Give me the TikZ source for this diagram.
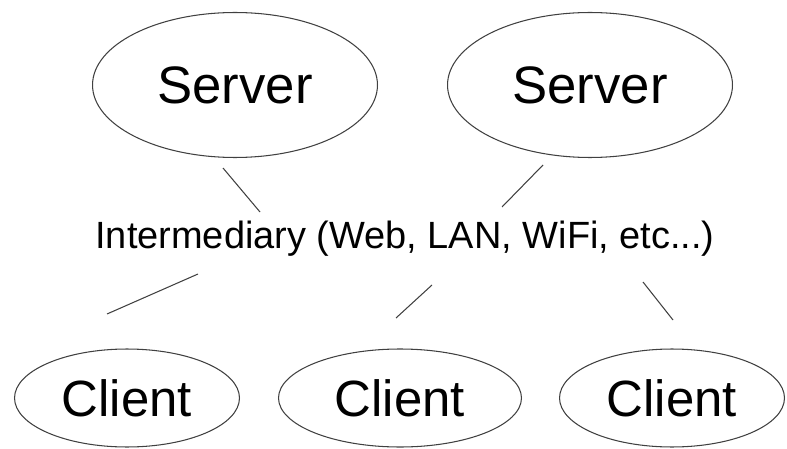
\documentclass[tikz,border=0pt]{standalone}
\usepackage{fontspec}
\setmainfont{Liberation Sans}
\usetikzlibrary{shapes.geometric}

\begin{document}
\begin{tikzpicture}[
  x=0.02cm, y=-0.02cm,
  host/.style={ellipse, draw=black!75, line width=0.6pt, inner sep=0pt},
  server/.style={host, minimum width=5.7cm, minimum height=2.9cm, font=\fontsize{30}{36}\selectfont},
  client/.style={host, minimum width=4.5cm, minimum height=1.96cm, font=\fontsize{29}{35}\selectfont},
  link/.style={draw=black!75, line width=0.6pt}
]
\useasboundingbox (0,0) rectangle (787,449);
\node[server] (srvA) at (235,85) {Server};
\node[server] (srvB) at (590,85) {Server};
\node[anchor=base, font=\fontsize{21.6}{26}\selectfont] (net) at (405,248) {Intermediary (Web, LAN, WiFi, etc...)};
\node[client] (cliA) at (127,398) {Client};
\node[client, minimum width=4.86cm] (cliB) at (400,398) {Client};
\node[client] (cliC) at (672,398) {Client};
\coordinate (srvAend) at (223,168);
\coordinate (netA) at (260,212);
\coordinate (srvBend) at (543,165);
\coordinate (netB) at (502,207);
\coordinate (netC) at (198,274);
\coordinate (cliAend) at (107,314);
\coordinate (netD) at (432,285);
\coordinate (cliBend) at (396,318);
\coordinate (netE) at (643,282);
\coordinate (cliCend) at (673,320);
\draw[link] (srvAend) -- (netA);
\draw[link] (srvBend) -- (netB);
\draw[link] (netC) -- (cliAend);
\draw[link] (netD) -- (cliBend);
\draw[link] (netE) -- (cliCend);
\end{tikzpicture}
\end{document}
